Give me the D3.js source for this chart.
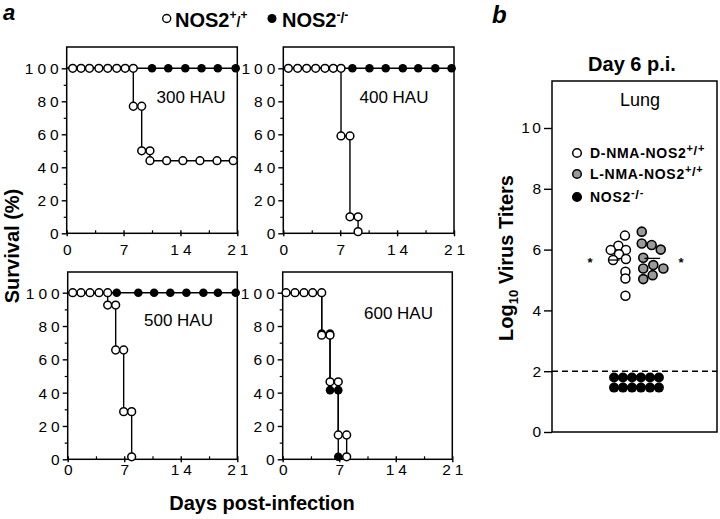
<!DOCTYPE html>
<html><head><meta charset="utf-8">
<script src="https://cdn.jsdelivr.net/npm/d3@7"></script>
<style>
body{margin:0;background:#fff}
svg{display:block}
text{font-family:"Liberation Sans",Arial,Helvetica,sans-serif;fill:#000}
</style>
</head><body>
<svg id="c" width="720" height="519"></svg>
<script>
// ---------- DATA ----------
const dayTicks = [0, 7, 14, 21];
const dayMinorTicks = [3.5, 10.5, 17.5];
const survTicks = [0, 20, 40, 60, 80, 100];
const survMinorTicks = [10, 30, 50, 70, 90];
const doseLabels = ["300 HAU", "400 HAU", "500 HAU", "600 HAU"];

// survival (%) by day, NOS2+/+ (open) and NOS2-/- (filled)
const wt300 = [[0.74,100],[1.77,100],[2.8,100],[3.96,100],[5.05,100],[6.16,100],[7.2,100],[8.2,100],[8.2,77],[9.23,77],[9.23,50],[10.25,50],[10.25,44],[12.3,44],[14.3,44],[16.4,44],[18.5,44],[20.5,44]];
const ko300 = [[10.5,100],[12.5,100],[14.6,100],[16.6,100],[18.6,100],[20.8,100]];
const wt400 = [[0.62,100],[1.76,100],[2.87,100],[3.98,100],[5.13,100],[6.15,100],[7.1,100],[7.1,59],[8.2,59],[8.2,10],[9.2,10],[9.2,1]];
const ko400 = [[8.5,100],[10.6,100],[12.6,100],[14.7,100],[16.6,100],[18.7,100],[20.7,100]];
const wt500 = [[0.62,100],[1.65,100],[2.76,100],[3.88,100],[4.95,100],[4.95,92.6],[5.94,92.6],[5.94,65.6],[6.93,65.6],[6.93,28.6],[7.92,28.6],[7.92,1.5]];
const ko500 = [[6.07,100],[8.74,100],[10.7,100],[12.7,100],[14.7,100],[16.8,100],[18.6,100],[20.8,100]];
const wt600 = [[0.41,100],[1.52,100],[2.64,100],[3.71,100],[4.83,100],[4.83,74.5],[5.86,74.5],[5.86,46.5],[6.88,46.5],[6.88,14.6],[7.92,14.6],[7.92,1.5]];
const ko600 = [[4.83,75.5],[5.86,75.5],[5.86,41.5],[6.88,41.5],[6.88,1.5]];

const legendA = ["NOS2", "NOS2"];

// panel b: log10 virus titers (x = jitter position within the box, 0-10)
const titerTicks = [0, 2, 4, 6, 8, 10];
const detectionLimit = 2;
const dNMA = [[4.42,6.46],[4.02,6.13],[3.56,5.99],[4.48,5.99],[4.06,5.85],[3.70,5.66],[4.48,5.69],[4.45,5.27],[4.45,5.05],[4.45,4.48]];
const lNMA = [[5.44,6.59],[5.44,6.2],[6.04,6.15],[6.59,6.0],[5.53,5.73],[6.14,5.49],[5.53,5.38],[6.75,5.38],[6.10,5.16],[5.53,5.03]];
const nos2KO = [[3.76,1.79],[4.30,1.79],[4.85,1.79],[5.39,1.79],[5.94,1.79],[6.48,1.79],[3.76,1.46],[4.30,1.46],[4.85,1.46],[5.39,1.46],[5.94,1.46],[6.48,1.46]];
const groupNamesB = ["D-NMA-NOS2", "L-NMA-NOS2", "NOS2"];

// ---------- DRAW ----------
const svg = d3.select("#c");
const LS = 4; // tick label tracking

const panelLayout = [
  {x0:66.7, x1:237.3, y0:233.3, y1:68.3, top:47, lab:[191,103], xl:255},
  {x0:283.3, x1:454, y0:233.3, y1:68.3, top:47, lab:[394,103], xl:255},
  {x0:67.7, x1:237.3, y0:459.3, y1:292.7, top:272, lab:[178.5,326], xl:475},
  {x0:282.7, x1:452.3, y0:459.3, y1:292.7, top:272, lab:[398.5,319], xl:475}
];
const wtSeries = [wt300, wt400, wt500, wt600];
const koSeries = [ko300, ko400, ko500, ko600];

panelLayout.forEach((p, i) => {
  const x = d3.scaleLinear().domain([0, 21]).range([p.x0, p.x1]);
  const y = d3.scaleLinear().domain([0, 100]).range([p.y0, p.y1]);
  const g = svg.append("g");
  // box
  g.append("rect").attr("x", p.x0).attr("y", p.top).attr("width", p.x1 - p.x0).attr("height", p.y0 - p.top)
    .attr("fill", "none").attr("stroke", "#000").attr("stroke-width", 1.5);
  // y axis
  const ya = d3.axisLeft(y).tickValues(survTicks).tickSize(5).tickPadding(3).tickFormat(d3.format("d"));
  const yg = g.append("g").attr("transform", `translate(${p.x0},0)`).call(ya);
  yg.select(".domain").remove();
  yg.selectAll("line").attr("stroke-width", 1.4);
  yg.selectAll("text").style("font-size", "15.5px").style("letter-spacing", LS + "px")
    .attr("dx", LS).attr("dy", "0.36em").attr("font-family", null);
  const ym = d3.axisLeft(y).tickValues(survMinorTicks).tickSize(3).tickFormat("");
  const ymg = g.append("g").attr("transform", `translate(${p.x0},0)`).call(ym);
  ymg.select(".domain").remove();
  ymg.selectAll("line").attr("stroke-width", 1.2);
  // x axis
  const xa = d3.axisBottom(x).tickValues(dayTicks).tickSize(3).tickFormat(d3.format("d"));
  const xg = g.append("g").attr("transform", `translate(0,${p.y0})`).call(xa);
  xg.select(".domain").remove();
  xg.selectAll("line").attr("y1", -3).attr("stroke-width", 1.4);
  xg.selectAll("text").style("font-size", "15.5px").style("letter-spacing", LS + "px")
    .attr("dx", LS / 2).attr("y", p.xl - p.y0).attr("dy", 0);
  const xm = d3.axisTop(x).tickValues(dayMinorTicks).tickSize(3).tickFormat("");
  const xmg = g.append("g").attr("transform", `translate(0,${p.y0})`).call(xm);
  xmg.select(".domain").remove();
  xmg.selectAll("line").attr("stroke-width", 1.2);
  // dose label
  g.append("text").attr("x", p.lab[0]).attr("y", p.lab[1]).attr("text-anchor", "middle")
    .style("font-size", "17px").text(doseLabels[i]);

  const line = d3.line().x(d => x(d[0])).y(d => y(d[1]));
  const fullPath = s => {
    const pts = [[0, 100]].concat(s[0][1] === 100 ? [] : [[s[0][0], 100]], s);
    if (s[s.length - 1][1] === 100) pts.push([21, 100]);
    return pts;
  };
  // KO first, then WT on top
  g.append("path").attr("d", line(fullPath(koSeries[i]))).attr("fill", "none").attr("stroke", "#000").attr("stroke-width", 1.4);
  g.append("path").attr("d", line(fullPath(wtSeries[i]))).attr("fill", "none").attr("stroke", "#000").attr("stroke-width", 1.4);
  g.selectAll(".ko").data(koSeries[i]).join("circle").attr("class", "ko")
    .attr("cx", d => x(d[0])).attr("cy", d => y(d[1])).attr("r", 4.3).attr("fill", "#000");
  g.selectAll(".wt").data(wtSeries[i]).join("circle").attr("class", "wt")
    .attr("cx", d => x(d[0])).attr("cy", d => y(d[1])).attr("r", 3.9)
    .attr("fill", "#fff").attr("stroke", "#000").attr("stroke-width", 1.5);
});

// legend a
svg.append("circle").attr("cx", 166.7).attr("cy", 18.5).attr("r", 4).attr("fill", "#fff").attr("stroke", "#000").attr("stroke-width", 1.4);
const la1 = svg.append("text").attr("x", 175).attr("y", 26.5).style("font-size", "20px").style("font-weight", "bold");
la1.append("tspan").text(legendA[0]);
la1.append("tspan").attr("dy", -8).style("font-size", "12px").text("+");
la1.append("tspan").attr("dy", 8).style("font-size", "14px").text("/");
la1.append("tspan").attr("dy", -8).style("font-size", "12px").text("+");
svg.append("circle").attr("cx", 272).attr("cy", 18.5).attr("r", 4.5).attr("fill", "#000");
const la2 = svg.append("text").attr("x", 282).attr("y", 26.5).style("font-size", "20px").style("font-weight", "bold");
la2.append("tspan").text(legendA[1]);
la2.append("tspan").attr("dy", -8).style("font-size", "12px").text("-");
la2.append("tspan").attr("dy", 4).style("font-size", "14px").text("/");
la2.append("tspan").attr("dy", -4).style("font-size", "12px").text("-");

// panel labels & titles
svg.append("text").attr("x", 3).attr("y", 20).style("font-size", "22px").style("font-weight", "bold").style("font-style", "italic").text("a");
svg.append("text").attr("x", 492).attr("y", 23).style("font-size", "24px").style("font-weight", "bold").style("font-style", "italic").text("b");
svg.append("text").attr("transform", "translate(19,246) rotate(-90)").attr("text-anchor", "middle")
  .style("font-size", "20px").style("font-weight", "bold").text("Survival (%)");
svg.append("text").attr("x", 262).attr("y", 510).attr("text-anchor", "middle")
  .style("font-size", "20px").style("font-weight", "bold").text("Days post-infection");

// ---------- panel b ----------
const bx0 = 552, bx1 = 717, btop = 81, by0 = 432;
const xb = d3.scaleLinear().domain([0, 10]).range([bx0, bx1]);
const yb = d3.scaleLinear().domain([0, 10]).range([by0, 128]);
const gb = svg.append("g");
gb.append("rect").attr("x", bx0).attr("y", btop).attr("width", bx1 - bx0).attr("height", by0 - btop)
  .attr("fill", "none").attr("stroke", "#000").attr("stroke-width", 1.5);
const yba = d3.axisLeft(yb).tickValues(titerTicks).tickSize(8).tickPadding(3).tickFormat(d3.format("d"));
const ybg = gb.append("g").attr("transform", `translate(${bx0},0)`).call(yba);
ybg.select(".domain").remove();
ybg.selectAll("line").attr("stroke-width", 1.4);
ybg.selectAll("text").style("font-size", "15.5px").style("letter-spacing", "2.5px").attr("dx", 2.5).attr("font-family", null);

gb.append("text").attr("x", 632).attr("y", 71).attr("text-anchor", "middle")
  .style("font-size", "20px").style("font-weight", "bold").text("Day 6 p.i.");
gb.append("text").attr("x", 640).attr("y", 106).attr("text-anchor", "middle")
  .style("font-size", "18px").text("Lung");
const ybt = gb.append("text").attr("transform", "translate(513,258) rotate(-90)").attr("text-anchor", "middle")
  .style("font-size", "20px").style("font-weight", "bold");
ybt.append("tspan").text("Log");
ybt.append("tspan").attr("dy", 5).style("font-size", "13px").text("10");
ybt.append("tspan").attr("dy", -5).text(" Virus Titers");

// detection limit
gb.append("line").attr("x1", bx0).attr("x2", bx1).attr("y1", yb(detectionLimit)).attr("y2", yb(detectionLimit))
  .attr("stroke", "#000").attr("stroke-width", 1.5).attr("stroke-dasharray", "6,4");

// points
gb.selectAll(".ko").data(nos2KO).join("circle").attr("cx", d => xb(d[0])).attr("cy", d => yb(d[1]))
  .attr("r", 5).attr("fill", "#000");
gb.selectAll(".l").data(lNMA).join("circle").attr("cx", d => xb(d[0])).attr("cy", d => yb(d[1]))
  .attr("r", 4.5).attr("fill", "#9a9a9a").attr("stroke", "#000").attr("stroke-width", 1.6);
gb.selectAll(".d").data(dNMA).join("circle").attr("cx", d => xb(d[0])).attr("cy", d => yb(d[1]))
  .attr("r", 4.5).attr("fill", "#fff").attr("stroke", "#000").attr("stroke-width", 1.5);
// mean bars
[[dNMA, 3.4, 4.1], [lNMA, 5.6, 6.55]].forEach(([s, a, b]) => {
  const m = d3.mean(s, d => d[1]);
  gb.append("line").attr("x1", xb(a)).attr("x2", xb(b)).attr("y1", yb(m)).attr("y2", yb(m))
    .attr("stroke", "#000").attr("stroke-width", 1.3);
});
// significance asterisks
[590, 681].forEach(ax => {
  gb.append("text").attr("x", ax).attr("y", 267).attr("text-anchor", "middle")
    .style("font-size", "13px").style("font-weight", "bold").style("opacity", 0.99).text("*");
});

// legend b
const legY = [153, 174, 197];
const legFill = ["#fff", "#9a9a9a", "#000"];
const legSup = [["+", "+"], ["+", "+"], ["-", "-"]];
groupNamesB.forEach((n, i) => {
  gb.append("circle").attr("cx", 577).attr("cy", legY[i]).attr("r", 4.3).attr("fill", legFill[i])
    .attr("stroke", "#000").attr("stroke-width", 1.5);
  const t = gb.append("text").attr("x", 590).attr("y", legY[i] + 5).style("font-size", "14px")
    .style("font-weight", "bold").style("letter-spacing", "0.7px");
  t.append("tspan").text(n);
  t.append("tspan").attr("dy", -6).style("font-size", "11px").text(legSup[i][0]);
  t.append("tspan").attr("dy", 3).style("font-size", "13px").text("/");
  t.append("tspan").attr("dy", -3).style("font-size", "11px").text(legSup[i][1]);
});
</script>
</body></html>
